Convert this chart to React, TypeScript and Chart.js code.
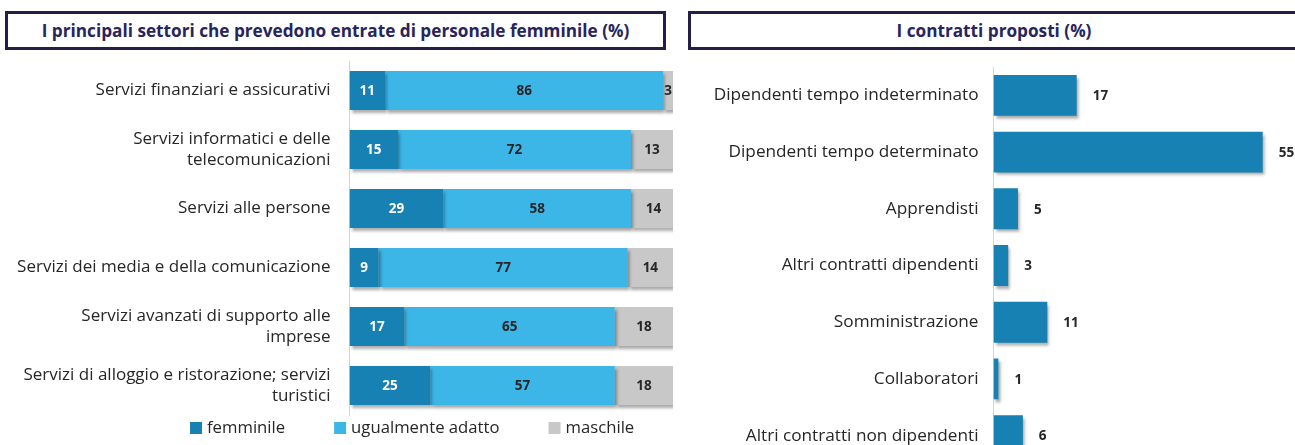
import React, { useEffect, useRef } from "react";
import { Chart, registerables } from "chart.js";

Chart.register(...registerables);

// ---------- data ----------
const leftTitle = "I principali settori che prevedono entrate di personale femminile (%)";
const rightTitle = "I contratti proposti (%)";

const sectorLabels: string[][] = [
  ["Servizi finanziari e assicurativi"],
  ["Servizi informatici e delle", "telecomunicazioni"],
  ["Servizi alle persone"],
  ["Servizi dei media e della comunicazione"],
  ["Servizi avanzati di supporto alle", "imprese"],
  ["Servizi di alloggio e ristorazione; servizi", "turistici"],
];
const femminile = [11, 15, 29, 9, 17, 25];
const ugualmenteAdatto = [86, 72, 58, 77, 65, 57];
const maschile = [3, 13, 14, 14, 18, 18];
const seriesNames = ["femminile", "ugualmente adatto", "maschile"];

const contractLabels = [
  "Dipendenti tempo indeterminato",
  "Dipendenti tempo determinato",
  "Apprendisti",
  "Altri contratti dipendenti",
  "Somministrazione",
  "Collaboratori",
  "Altri contratti non dipendenti",
];
const contractValues = [17, 55, 5, 3, 11, 1, 6];

// ---------- styles ----------
const FONT = "'Open Sans', Lato, sans-serif";
const DARK = "#1681b2";
const LIGHT = "#3cb5e7";
const GRAY = "#c8c8c8";
const TEXT = "#262626";
const AXIS = "#d4d4d4";

const shadowPlugin = {
  id: "barShadow",
  beforeDatasetsDraw(chart: any) {
    const ctx = chart.ctx;
    ctx.save();
    ctx.shadowColor = "rgba(0,0,0,0.35)";
    ctx.shadowBlur = 3;
    ctx.shadowOffsetX = 2;
    ctx.shadowOffsetY = 3;
  },
  afterDatasetsDraw(chart: any) {
    chart.ctx.restore();
  },
};

const stackLabelPlugin = {
  id: "stackLabels",
  afterDatasetsDraw(chart: any) {
    const ctx = chart.ctx;
    const colors = ["#ffffff", TEXT, TEXT];
    ctx.save();
    ctx.font = `bold 13.5px ${FONT}`;
    ctx.textAlign = "center";
    ctx.textBaseline = "middle";
    chart.data.datasets.forEach((ds: any, i: number) => {
      const meta = chart.getDatasetMeta(i);
      meta.data.forEach((bar: any, j: number) => {
        const p = bar.getProps(["x", "y", "base"], true);
        ctx.fillStyle = colors[i];
        ctx.fillText(String(ds.data[j]), (p.x + p.base) / 2, p.y + 1);
      });
    });
    ctx.restore();
  },
};

const legendPlugin = {
  id: "customLegend",
  afterDraw(chart: any) {
    const ctx = chart.ctx;
    const box = 12;
    const gapText = 5;
    const gapItem = 49;
    const startX = 190;
    const y = 428;
    ctx.save();
    ctx.font = `16.7px ${FONT}`;
    ctx.textBaseline = "middle";
    ctx.textAlign = "left";
    let x = startX;
    chart.data.datasets.forEach((ds: any) => {
      ctx.fillStyle = ds.backgroundColor;
      ctx.fillRect(x, y - box / 2, box, box);
      ctx.fillStyle = TEXT;
      ctx.fillText(ds.label, x + box + gapText, y);
      x += box + gapText + ctx.measureText(ds.label).width + gapItem;
    });
    ctx.restore();
  },
};

const valueLabelPlugin = {
  id: "valueLabels",
  afterDatasetsDraw(chart: any) {
    const ctx = chart.ctx;
    ctx.save();
    ctx.font = `bold 13.5px ${FONT}`;
    ctx.textAlign = "left";
    ctx.textBaseline = "middle";
    ctx.fillStyle = TEXT;
    const ds = chart.data.datasets[0];
    chart.getDatasetMeta(0).data.forEach((bar: any, j: number) => {
      const p = bar.getProps(["x", "y"], true);
      ctx.fillText(String(ds.data[j]), p.x + 16, p.y + 1);
    });
    ctx.restore();
  },
};

function LeftChart() {
  const ref = useRef<HTMLCanvasElement>(null);
  useEffect(() => {
    const chart = new Chart(ref.current!, {
      type: "bar",
      data: {
        labels: sectorLabels,
        datasets: [
          { label: seriesNames[0], data: femminile, backgroundColor: DARK },
          { label: seriesNames[1], data: ugualmenteAdatto, backgroundColor: LIGHT },
          { label: seriesNames[2], data: maschile, backgroundColor: GRAY },
        ],
      },
      options: {
        indexAxis: "y",
        responsive: false,
        animation: false,
        layout: { padding: { top: 61, bottom: 85, right: 7, left: 0 } },
        datasets: { bar: { barPercentage: 1, categoryPercentage: 0.66, borderWidth: 0 } },
        plugins: { legend: { display: false }, tooltip: { enabled: false }, title: { display: false } },
        scales: {
          x: { stacked: true, display: false, min: 0, max: 100 },
          y: {
            stacked: true,
            grid: { display: false, drawTicks: false },
            border: { display: true, color: AXIS, width: 1 },
            ticks: { color: TEXT, font: { family: FONT, size: 17, lineHeight: 1.25 }, padding: 19 },
            afterFit: (s: any) => {
              s.width = 349.5;
            },
          },
        },
      },
      plugins: [shadowPlugin, stackLabelPlugin, legendPlugin],
    });
    return () => chart.destroy();
  }, []);
  return (
    <canvas
      ref={ref}
      width={680}
      height={500}
      style={{ position: "absolute", left: 0, top: 0, width: 680, height: 500 }}
    />
  );
}

function RightChart() {
  const ref = useRef<HTMLCanvasElement>(null);
  useEffect(() => {
    const chart = new Chart(ref.current!, {
      type: "bar",
      data: {
        labels: contractLabels,
        datasets: [{ label: "contratti", data: contractValues, backgroundColor: DARK }],
      },
      options: {
        indexAxis: "y",
        responsive: false,
        animation: false,
        layout: { padding: { top: 67, bottom: 56, right: 0, left: 0 } },
        datasets: { bar: { barPercentage: 1, categoryPercentage: 0.72, borderWidth: 0 } },
        plugins: { legend: { display: false }, tooltip: { enabled: false } },
        scales: {
          x: { display: false, min: 0, max: 61.6 },
          y: {
            grid: { display: false, drawTicks: false },
            border: { display: true, color: AXIS, width: 1 },
            ticks: { color: TEXT, font: { family: FONT, size: 17.2 }, padding: 15 },
            afterFit: (s: any) => {
              s.width = 313.5;
            },
          },
        },
      },
      plugins: [shadowPlugin, valueLabelPlugin],
    });
    return () => chart.destroy();
  }, []);
  return (
    <canvas
      ref={ref}
      width={615}
      height={520}
      style={{ position: "absolute", left: 680, top: 0, width: 615, height: 520 }}
    />
  );
}

const titleBox = (left: number, width: number): React.CSSProperties => ({
  position: "absolute",
  left,
  top: 11,
  width,
  height: 39,
  boxSizing: "border-box",
  border: "3px solid #231f48",
  background: "#ffffff",
  display: "flex",
  alignItems: "center",
  justifyContent: "center",
  fontFamily: FONT,
  fontWeight: 700,
  fontSize: 17.2,
  color: "#28245c",
  zIndex: 2,
});

export default function App() {
  return (
    <div
      style={{
        position: "fixed",
        left: 0,
        top: 0,
        width: 1295,
        height: 445,
        overflow: "hidden",
        background: "#ffffff",
      }}
    >
      <LeftChart />
      <RightChart />
      <div style={titleBox(5, 661)}>{leftTitle}</div>
      <div style={titleBox(688, 612)}>{rightTitle}</div>
    </div>
  );
}
